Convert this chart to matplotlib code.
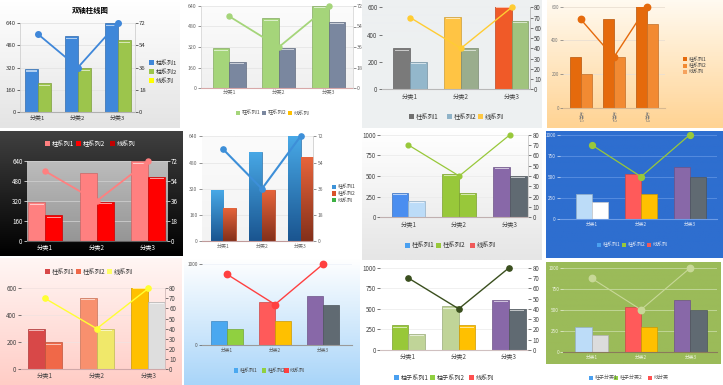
import numpy as np
import matplotlib.pyplot as plt
from matplotlib.patches import Rectangle
from matplotlib.colors import to_rgb

plt.rcParams['font.family'] = ['Noto Sans CJK SC', 'DejaVu Sans']

W, H = 723, 385

# data
categories = ['分类1', '分类2', '分类3']
bar1 = [300, 530, 610]
bar2 = [200, 300, 500]
line_vals = [70, 40, 80]
# panels drawn on the 0-640 / 0-72 scale
bar1_640 = [310, 545, 640]
bar2_640 = [205, 315, 515]
line_72 = [63, 36, 72]

legend_a = ['柱系列1', '柱系列2', '线系列']
legend_b = ['柱子系列1', '柱子系列2', '线系列']
legend_c = ['柱子分类1', '柱子分类2', '线分类']
title = '双轴柱线图'

fig = plt.figure(figsize=(W / 100, H / 100), dpi=100)


def rect(x0, y0, x1, y1):
    return [x0 / W, 1 - y1 / H, (x1 - x0) / W, (y1 - y0) / H]


def shade(c, f):
    return tuple(np.array(to_rgb(c)) * f)


def gradient(top, bottom):
    t = np.array(to_rgb(top))
    b = np.array(to_rgb(bottom))
    k = np.linspace(0, 1, 64)[:, None]
    return (t * (1 - k) + b * k)[:, None, :]


def bg(x0, y0, x1, y1, top, bottom=None):
    ax = fig.add_axes(rect(x0, y0, x1, y1))
    ax.set_axis_off()
    ax.imshow(gradient(top, bottom or top), aspect='auto', extent=(0, 1, 0, 1))
    ax.set_xlim(0, 1)
    ax.set_ylim(0, 1)


def legend(labels, colors, xs, ys, tc='#333', size=5, fs=4.3):
    for lab, c, x, y in zip(labels, colors, xs, ys):
        fig.add_artist(Rectangle((x / W, 1 - (y + size / 2) / H), size / W, size / H,
                                 transform=fig.transFigure, color=c, lw=0))
        fig.text((x + size + 1.5) / W, 1 - y / H, lab, fontsize=fs, color=tc,
                 va='center', ha='left')


def draw(box, xlim, b1, b2, ln, ylim, yt, c1, c2, lc, y2lim=(0, 80), y2t=None,
         face=None, grad=None, gloss=True, ms=3.5, lw=1.1, tc='#444', grid='#e6e6e6',
         base='#bbbbbb', lspine=None, rspine=None, fs=4.3, rot=0, width=0.33):
    if face:
        bg(*box, *face)
    ax = fig.add_axes(rect(*box))
    ax.patch.set_visible(False)
    x = np.arange(len(categories))
    for k, (off, vals, cols) in enumerate(((-width / 2, b1, c1), (width / 2, b2, c2))):
        cols = cols if isinstance(cols, list) else [cols] * 3
        bars = ax.bar(x + off, vals, width, color=cols,
                      edgecolor=[shade(c, 0.8) for c in cols], linewidth=0.5, zorder=2)
        if grad:
            for p in bars:
                im = ax.imshow(gradient(*grad[k]), aspect='auto', zorder=2.5,
                               extent=(p.get_x(), p.get_x() + p.get_width(), 0, p.get_height()))
                im.set_clip_path(p)
        if gloss:
            ax.bar(x + off, [ylim[1] * 0.012] * 3, width * 0.84,
                   bottom=np.array(vals) - ylim[1] * 0.03, color='white', alpha=0.6,
                   linewidth=0, zorder=3)
    ax.set_xlim(xlim)
    ax.set_ylim(ylim)
    ax.set_yticks(yt)
    ax.set_xticks(x)
    ax.set_xticklabels(categories, rotation=rot, va='top')
    ax.tick_params(axis='x', length=0, pad=2, labelsize=fs, labelcolor=tc)
    ax.tick_params(axis='y', length=2, width=0.5, pad=1, labelsize=fs, colors=tc)
    if grid:
        ax.yaxis.grid(True, color=grid, lw=0.6)
        ax.set_axisbelow(True)
    for s in ('top', 'right'):
        ax.spines[s].set_visible(False)
    ax.spines['bottom'].set_color(base)
    ax.spines['bottom'].set_linewidth(0.8)
    if lspine:
        ax.spines['left'].set_color(lspine)
        ax.spines['left'].set_linewidth(0.6)
    else:
        ax.spines['left'].set_visible(False)

    ax2 = ax.twinx()
    ax2.plot(x, ln, color=lc, lw=lw, marker='o', ms=ms, zorder=5, clip_on=False)
    ax2.set_ylim(y2lim)
    for s in ('top', 'left', 'bottom', 'right'):
        ax2.spines[s].set_visible(False)
    if y2t is not None:
        ax2.set_yticks(y2t)
        ax2.tick_params(axis='y', length=2, width=0.5, pad=1, labelsize=fs, colors=tc)
        if rspine:
            ax2.spines['right'].set_visible(True)
            ax2.spines['right'].set_color(rspine)
            ax2.spines['right'].set_linewidth(0.6)
    else:
        ax2.set_yticks([])
    return ax


# backgrounds
bg(0, 0, 180, 128, '#ffffff', '#e4e4e4')
bg(362, 0, 542, 128, '#edf0f1')
bg(547, 0, 723, 128, '#fffaf0', '#ffd393')
bg(0, 131, 183, 256, '#404040', '#000000')
bg(362, 131, 542, 260, '#ffffff', '#e6e6e6')
bg(546, 131, 723, 258, '#2e6ecf')
bg(0, 258, 182, 385, '#fff6f4', '#ffcdc6')
bg(184, 258, 360, 385, '#ffffff', '#a9d5f9')
bg(546, 262, 721, 364, '#9bbb59')

y640 = np.arange(0, 641, 160)
y72 = np.arange(0, 73, 18)
y600 = np.arange(0, 601, 200)
y1000 = np.arange(0, 1001, 250)
y80 = np.arange(0, 81, 10)

# row 1
fig.text(90 / W, 1 - 10 / H, title, fontsize=5.3, weight='bold', ha='center', va='center')
draw((20, 23, 135, 112), (-0.45, 2.43), bar1_640, bar2_640, line_72, (0, 640), y640,
     '#3f87d9', '#9cc54c', '#3f87d9', y2lim=(0, 72), y2t=y72, ms=4, lw=1.3,
     tc='#333', grid='#e3e3e3', base='#b0b0b0', lspine='#d0d0d0', rspine='#d0d0d0')
legend(legend_a, ['#3f87d9', '#9cc54c', '#ffff00'], [149] * 3, [62.7, 71.7, 80.7], fs=4.3)

draw((200.7, 6, 352.7, 88), (-0.57, 2.48), bar1_640, bar2_640, line_72, (0, 640), y640,
     '#a5d57a', '#7a879f', '#a5d57a', y2lim=(0, 72), y2t=y72, face=('#fcfcfc', '#f0f0f0'),
     ms=3.6, lw=1.3, tc='#666', base='#d8a8a8', lspine='#d8d8d8', rspine='#d8d8d8', fs=3.8)
legend(legend_a, ['#a5d57a', '#7a879f', '#ffc000'], [235.5, 261.5, 287.5], [113] * 3,
       size=4.5, fs=3.8, tc='#555')

draw((381.7, 7.3, 530, 89.3), (-0.56, 2.36), bar1, bar2, line_vals, (0, 600), y600,
     ['#7a7a7a', '#ffc444', '#f05a28'], ['#93b7cb', '#9aad8d', '#a0c37e'], '#ffcc33',
     y2t=y80, ms=3.6, lw=1.0, grid=None, base='#b8b8b8', rspine='#b8b8b8', fs=4.5)
legend(legend_a, ['#707070', '#8fb3c8', '#ffc844'], [409.3, 447.3, 478.3], [116.7] * 3,
       fs=4.6, tc='#333')

draw((563, 6.7, 665, 108), (-0.54, 2.55), bar1, bar2, line_vals, (0, 600), y600,
     '#e56a0c', '#f28a32', '#e56a0c', gloss=False, ms=4.6, lw=1.0, tc='#777',
     grid='#eadfd2', base='#d8b890', fs=3.2, rot=-90)
legend(legend_a, ['#e56a0c', '#f28a32', '#f6a35f'], [683] * 3, [59.3, 65.7, 71.7],
       size=4, fs=3.6, tc='#444')

# row 2
draw((26.7, 161.3, 166.7, 240.7), (-0.36, 2.36), bar1_640, bar2_640, line_72, (0, 640), y640,
     '#ff8080', '#ff0000', '#ff8080', y2lim=(0, 72), y2t=y72, face=('#bcbcbc', '#969696'),
     ms=3.6, lw=1.3, tc='white', grid='#cdcdcd', base='#606060', fs=4.5)
legend(legend_a, ['#ff8080', '#ff0000', '#c00000'], [45, 76, 110], [144] * 3,
       fs=4.5, tc='white')

draw((201.7, 136.3, 313.3, 241.3), (-0.56, 2.33), bar1_640, bar2_640, line_72, (0, 640), y640,
     '#3d93d8', '#d9532a', '#3d8fd8', y2lim=(0, 72), y2t=y72, face=('#fbfbfb', '#f3f3f3'),
     grad=[('#48a8e6', '#1a5590'), ('#e8653c', '#84301a')], gloss=False, ms=3.8, lw=1.5,
     tc='#666', grid='#e8e8e8', base='#c09a9a', rspine='#d0d0d0', fs=3.6)
legend(legend_a, ['#3d93d8', '#d9532a', '#3cb043'], [331.7] * 3, [187, 193.5, 200],
       size=4.5, fs=3.6, tc='#444')

draw((380, 134.7, 528.3, 217.3), (-0.56, 2.36), bar1, bar2, line_vals, (0, 1000), y1000,
     ['#4a8ef0', '#98c83a', '#8868a8'], ['#bcdcf8', '#98c83a', '#606a72'], '#98c83a',
     y2t=y80, ms=3.4, lw=0.9, grid='#ececec', base='#c0b0b0', rspine='#c8c8c8', fs=4.5)
legend(legend_a, ['#4aa0f0', '#98c83a', '#f05a5a'], [405, 436, 470], [245.3] * 3,
       fs=4.6, tc='#333')

draw((560, 134.7, 716.7, 218.7), (-0.66, 2.55), bar1, bar2, line_vals, (0, 1000), y1000,
     ['#bcdcf8', '#ff5a5a', '#8868a8'], ['#ffffff', '#ffc000', '#606a72'], '#98c83a',
     gloss=False, ms=4.2, lw=0.9, tc='#dfe7f6', grid='#5b90e2', base='#6d9ce6', fs=3.4)
legend(legend_a, ['#4aa0f0', '#98c83a', '#f05a5a'], [597, 622, 647], [244.7] * 3,
       size=4, fs=3.6, tc='#dfe7f6')

# row 3
draw((20.7, 288.3, 165, 369), (-0.47, 2.32), bar1, bar2, line_vals, (0, 600), y600,
     ['#d84848', '#f8906e', '#ffc000'], ['#f06848', '#f0e86a', '#dedede'], '#ffff33',
     y2t=y80, ms=3.8, lw=1.0, grid='#f3e2e0', base='#d0a8a8', rspine='#d0b8b8', fs=4.5)
legend(legend_a, ['#d84848', '#f06848', '#ffff66'], [45, 76, 107.3], [271.7] * 3,
       fs=4.6, tc='#333')

draw((201.7, 264, 351.7, 345), (-0.52, 2.59), bar1, bar2, line_vals, (0, 1000), [0, 1000],
     ['#4aa8f0', '#ff5a5a', '#8868a8'], ['#90d040', '#ffc000', '#606a72'], '#ff4040',
     gloss=False, ms=4.6, lw=1.0, tc='#555', grid='#eef3fa', base='#9a9a9a', fs=3.4)
legend(legend_a, ['#4aa8f0', '#90d040', '#ff4040'], [234, 261.7, 284], [370.7] * 3,
       size=4.5, fs=3.6, tc='#444')

draw((380, 267.7, 528.3, 350), (-0.56, 2.38), bar1, bar2, line_vals, (0, 1000), y1000,
     ['#98c838', '#c0d498', '#8868a8'], ['#c0d498', '#ffc000', '#606a72'], '#3a4f1e',
     y2t=y80, ms=3.8, lw=1.0, grid='#eeeeee', base='#d0c0c0', fs=4.5)
legend(legend_b, ['#4aa0f0', '#90d040', '#ff5050'], [394.3, 430, 469.3], [377.7] * 3,
       fs=4.4, tc='#333')

draw((563.3, 267.7, 716.7, 351.7), (-0.57, 2.53), bar1, bar2, line_vals, (0, 1000), y1000,
     ['#bcdcf8', '#ff5a5a', '#8868a8'], ['#dcdcdc', '#ffc000', '#606a72'], '#c8d898',
     gloss=False, ms=4.6, lw=0.8, tc='#eef3e2', grid='#c6d99f', base='#8a7a5a', fs=3.4)
legend(legend_c, ['#4aa0f0', '#90d040', '#ff5050'], [589, 614, 648], [377.7] * 3,
       size=4, fs=3.6, tc='#555')

fig.savefig('out.png', dpi=100)
